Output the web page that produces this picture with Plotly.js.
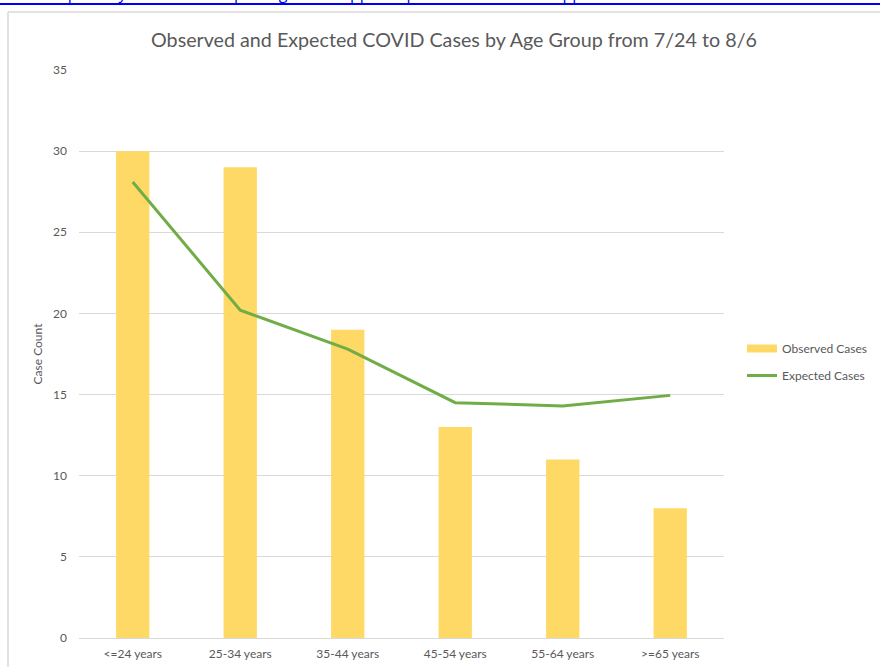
<!DOCTYPE html>
<html>
<head>
<meta charset="utf-8">
<script src="https://cdn.plot.ly/plotly-3.0.1.min.js"></script>
<style>
  html, body { margin: 0; padding: 0; background: #ffffff; overflow: hidden; }
  #chart { width: 880px; height: 667px; }
</style>
</head>
<body>
<div id="chart"></div>
<script>
const categories = ["<=24 years", "25-34 years", "35-44 years", "45-54 years", "55-64 years", ">=65 years"];
const observedCases = [30, 29, 19, 13, 11, 8];
const expectedCases = [28.1, 20.2, 17.8, 14.5, 14.3, 14.95];
const yTickValues = [0, 5, 10, 15, 20, 25, 30, 35];
const titleText = "Observed and Expected COVID Cases by Age Group from 7/24 to 8/6";
const urlText = "ation: https://cityofmadison.maps.arcgis.com/apps/MapSeries/index.html?appid=4f9528925a14f2ba Production";

const textColor = "#595959";
const fontFamily = "Lato, 'Open Sans', sans-serif";

const traces = [
  {
    type: "bar",
    name: "Observed Cases",
    x: categories,
    y: observedCases,
    marker: { color: "#FFD966" },
    showlegend: false
  },
  {
    // legend entry for the bars, drawn as a wide flat swatch like the reference
    type: "scatter",
    mode: "lines",
    name: "Observed Cases",
    x: [null],
    y: [null],
    line: { color: "#FFD966", width: 8 },
    legendgroup: "obs"
  },
  {
    type: "scatter",
    mode: "lines",
    name: "Expected Cases",
    x: categories,
    y: expectedCases,
    line: { color: "#70AD47", width: 3 },
    legendgroup: "exp"
  }
];

const L = 79, R = 724, T = 70, B = 638;
const px = v => (v - L) / (R - L);
const py = v => (B - v) / (B - T);

const layout = {
  width: 880,
  height: 667,
  margin: { l: L, r: 880 - R, t: T, b: 667 - B, pad: 0, autoexpand: false },
  paper_bgcolor: "#ffffff",
  plot_bgcolor: "#ffffff",
  font: { family: fontFamily, color: textColor, size: 11 },
  bargap: 0.69,
  showlegend: true,
  title: {
    text: titleText,
    font: { family: fontFamily, size: 19.7, color: textColor },
    x: 454 / 880, xref: "container", xanchor: "center",
    y: 1 - 40 / 667, yref: "container", yanchor: "middle"
  },
  xaxis: {
    type: "category",
    showgrid: false,
    showline: true,
    linecolor: "#d9d9d9",
    linewidth: 1,
    ticks: "",
    tickfont: { family: fontFamily, size: 12, color: textColor },
    ticklabelstandoff: 5,
    fixedrange: true
  },
  yaxis: {
    range: [0, 35],
    tickvals: yTickValues,
    showgrid: true,
    gridcolor: "#d9d9d9",
    gridwidth: 1,
    zeroline: false,
    showline: false,
    ticks: "",
    tickfont: { family: fontFamily, size: 12, color: textColor },
    ticklabelstandoff: 11,
    title: {
      text: "Case Count",
      font: { family: fontFamily, size: 12, color: textColor },
      standoff: 7
    },
    fixedrange: true
  },
  legend: {
    x: px(742), xanchor: "left",
    y: py(362), yanchor: "middle",
    font: { family: fontFamily, size: 12, color: textColor },
    bgcolor: "rgba(0,0,0,0)",
    traceorder: "grouped",
    tracegroupgap: 8,
    itemwidth: 30
  },
  shapes: [
    { type: "line", xref: "paper", yref: "paper", x0: px(8), x1: px(880), y0: py(12), y1: py(12),
      line: { color: "#d9d9d9", width: 1.5 } },
    { type: "line", xref: "paper", yref: "paper", x0: px(8), x1: px(8), y0: py(12), y1: py(667),
      line: { color: "#d9d9d9", width: 1.5 } },
    { type: "line", xref: "paper", yref: "paper", x0: px(0), x1: px(880), y0: py(4), y1: py(4),
      line: { color: "#0000ee", width: 2 } }
  ],
  annotations: [
    {
      text: urlText,
      xref: "paper", yref: "paper",
      x: px(-2), xanchor: "left",
      y: py(6), yanchor: "bottom",
      showarrow: false,
      font: { family: "'Open Sans', sans-serif", size: 16, color: "#0000ee" }
    }
  ]
};

Plotly.newPlot("chart", traces, layout, { displayModeBar: false, staticPlot: true });
</script>
</body>
</html>
